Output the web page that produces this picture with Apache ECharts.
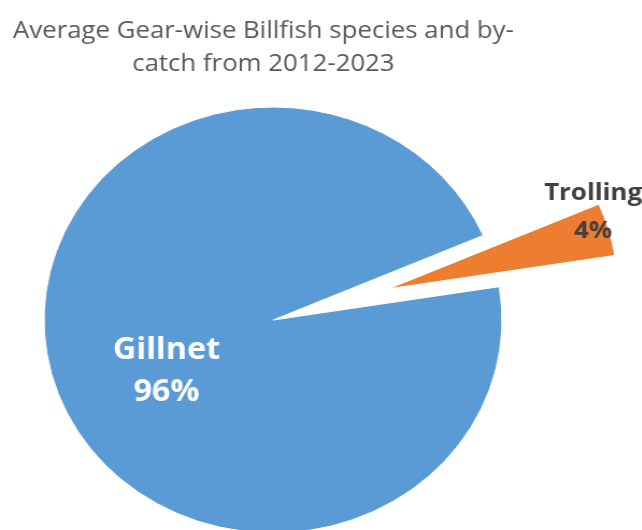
<!DOCTYPE html>
<html>
<head>
<meta charset="utf-8">
<script src="https://cdn.jsdelivr.net/npm/echarts@6/dist/echarts.min.js"></script>
<style>
  html, body { margin: 0; padding: 0; background: #ffffff; overflow: hidden; }
  /* the chart is drawn slightly narrower and widened to the full frame */
  #chart { width: 597px; height: 530px; transform: scaleX(1.075); transform-origin: 0 0; }
</style>
</head>
<body>
<div id="chart"></div>
<script>
// Average gear-wise billfish catch share (%)
const gears = ['Gillnet', 'Trolling'];
const shares = [96, 4];
const gearColors = ['#5B9BD5', '#ED7D31'];
const explodedGears = ['Trolling'];

const titleText = 'Average Gear-wise Billfish species and by-\ncatch from 2012-2023';

// label nudges per gear (pixels)
const labelShift = {
  Gillnet: { dx: 6, dy: 21 },
  Trolling: { dx: 85, dy: -46 }
};

const chart = echarts.init(document.getElementById('chart'), null, { renderer: 'canvas' });

const pieData = gears.map((g, i) => ({
  name: g,
  value: shares[i],
  selected: explodedGears.includes(g),
  itemStyle: { color: gearColors[i] },
  label: g === 'Gillnet'
    ? { color: '#ffffff', fontSize: 30, lineHeight: 42 }
    : { color: '#404040', fontSize: 24, lineHeight: 38 }
}));

chart.setOption({
  animation: false,
  backgroundColor: '#ffffff',
  title: {
    text: titleText,
    left: 240,
    top: 10,
    textAlign: 'center',
    textStyle: {
      fontFamily: 'Open Sans',
      fontSize: 24,
      fontWeight: 'normal',
      color: '#595959',
      lineHeight: 33
    }
  },
  series: [{
    type: 'pie',
    center: [254, 320],
    radius: [0, 213],
    startAngle: 9,
    clockwise: true,
    selectedMode: 'single',
    selectedOffset: 112,
    avoidLabelOverlap: false,
    itemStyle: { borderColor: '#ffffff', borderWidth: 1 },
    select: { itemStyle: { borderColor: '#ffffff', borderWidth: 1 } },
    emphasis: { disabled: true },
    label: {
      show: true,
      position: 'inside',
      formatter: '{b}\n{c}%',
      fontFamily: 'Open Sans',
      fontWeight: 'bold',
      align: 'center'
    },
    labelLine: { show: false },
    labelLayout: function (params) {
      const name = gears[params.dataIndex];
      return labelShift[name] || {};
    },
    data: pieData
  }]
});
</script>
</body>
</html>
